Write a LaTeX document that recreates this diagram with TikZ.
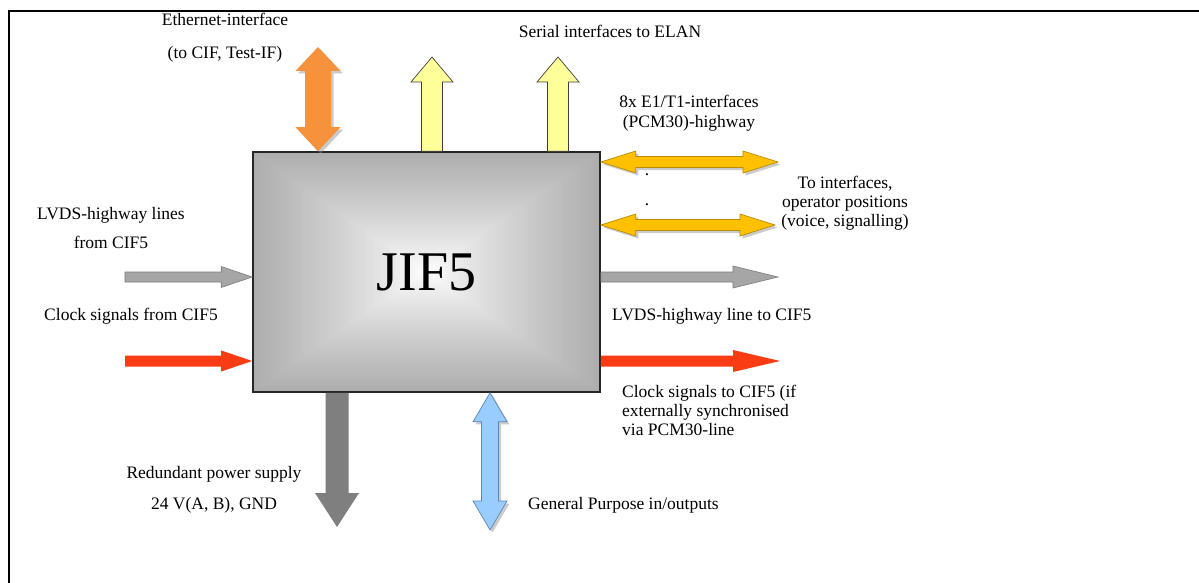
\documentclass[tikz,border=0pt]{standalone}
\usepackage{fontspec}
\setmainfont{Liberation Serif}
\usetikzlibrary{calc}

\definecolor{ethorange}{RGB}{247,146,60}
\definecolor{serialyellow}{RGB}{255,255,153}
\definecolor{pcmgold}{RGB}{255,192,0}
\definecolor{pcmgoldline}{RGB}{185,140,0}
\definecolor{lvdsgrey}{RGB}{166,166,166}
\definecolor{lvdsline}{RGB}{125,125,125}
\definecolor{clockred}{RGB}{250,60,20}
\definecolor{powergrey}{RGB}{127,127,127}
\definecolor{gpioblue}{RGB}{153,204,255}
\definecolor{gpioline}{RGB}{90,135,185}

% single block arrow: style, tail, tip, shaft half width, head half width, head length
\newcommand\blockarrow[6]{%
  \coordinate (hb) at ($(#3)!#6!(#2)$);
  \path[#1] ($(#2)!#4!90:(#3)$) -- ($(hb)!#4!90:(#3)$) -- ($(hb)!#5!90:(#3)$) -- (#3)
    -- ($(hb)!#5!-90:(#3)$) -- ($(hb)!#4!-90:(#3)$) -- ($(#2)!#4!-90:(#3)$) -- cycle;
}
% double block arrow: style, end A, end B, shaft half width, head half width, head length
\newcommand\dblockarrow[6]{%
  \coordinate (hba) at ($(#2)!#6!(#3)$);
  \coordinate (hbb) at ($(#3)!#6!(#2)$);
  \path[#1] (#2) -- ($(hba)!#5!90:(#3)$) -- ($(hba)!#4!90:(#3)$) -- ($(hbb)!#4!90:(#3)$)
    -- ($(hbb)!#5!90:(#3)$) -- (#3) -- ($(hbb)!#5!-90:(#3)$) -- ($(hbb)!#4!-90:(#3)$)
    -- ($(hba)!#4!-90:(#3)$) -- ($(hba)!#5!-90:(#3)$) -- cycle;
}

\tikzset{
  lbl/.style={font=\fontsize{17.5}{20}\selectfont, inner sep=0pt, align=center},
  dropshade/.style={preaction={fill=black!45, fill opacity=.45, draw=none,
      transform canvas={xshift=2.5pt,yshift=-2.5pt}}},
  etharrow/.style={fill=ethorange, dropshade},
  serarrow/.style={fill=serialyellow, draw=black!75, line width=0.7pt},
  pcmarrow/.style={fill=pcmgold, draw=pcmgoldline, line width=0.7pt, dropshade},
  lvdsarrow/.style={fill=lvdsgrey, draw=lvdsline, line width=0.6pt},
  clkarrow/.style={fill=clockred},
  pwrarrow/.style={fill=powergrey},
  gpioarrow/.style={fill=gpioblue, draw=gpioline, line width=0.7pt, dropshade},
}

\begin{document}
\begin{tikzpicture}[x=1pt,y=-1pt]
\useasboundingbox (0,0) rectangle (1199,583);
\fill[white] (0,0) rectangle (1199,583);

% page frame (top and left edges)
\draw[black, line width=1.6pt] (1199,11) -- (9,11) -- (9,583);

% JIF5 box: rectangular gradient from grey rim to white centre
\foreach \i in {0,...,59}{
  \pgfmathsetmacro\f{1-\i/60}
  \pgfmathsetmacro\g{32*\f^0.85}
  \fill[black!\g] ({426.5-173.5*\f},{272-120*\f}) rectangle ({426.5+173.5*\f},{272+120*\f});
}
\node[draw=black!85, line width=1.6pt, minimum width=347pt, minimum height=240pt,
      inner sep=0pt, font=\fontsize{56}{60}\selectfont] (jif) at (426.5,272) {JIF5};

% free ends of the connectors
\coordinate (eth) at (318,47);
\coordinate (ser1) at (432,57);
\coordinate (ser2) at (558,57);
\coordinate (pcma) at (778,162);
\coordinate (pcmb) at (775,225);
\coordinate (lvdsout) at (778,277);
\coordinate (clkout) at (780,361);
\coordinate (lvdsin) at (125,277);
\coordinate (clkin) at (125,361);
\coordinate (pwr) at (337,527);
\coordinate (gpio) at (490,530);

% connectors
\dblockarrow{etharrow}{jif.north -| eth}{eth}{13pt}{22.5pt}{24pt}
\blockarrow{serarrow}{jif.north -| ser1}{ser1}{10.5pt}{21pt}{25pt}
\blockarrow{serarrow}{jif.north -| ser2}{ser2}{10.5pt}{21pt}{25pt}
\dblockarrow{pcmarrow}{jif.east |- pcma}{pcma}{5.5pt}{11pt}{35pt}
\dblockarrow{pcmarrow}{jif.east |- pcmb}{pcmb}{5.5pt}{11pt}{35pt}
\blockarrow{lvdsarrow}{jif.east |- lvdsout}{lvdsout}{5pt}{11pt}{45pt}
\blockarrow{clkarrow}{jif.east |- clkout}{clkout}{5.5pt}{11pt}{47pt}
\blockarrow{lvdsarrow}{lvdsin}{jif.west |- lvdsin}{5pt}{10.5pt}{31pt}
\blockarrow{clkarrow}{clkin}{jif.west |- clkin}{5.5pt}{10.5pt}{31pt}
\blockarrow{pwrarrow}{jif.south -| pwr}{pwr}{11.5pt}{22pt}{34pt}
\dblockarrow{gpioarrow}{jif.south -| gpio}{gpio}{8.5pt}{17pt}{29pt}

% labels
\node[lbl] (lEth) at (225,38) {Ethernet-interface\\[13pt](to CIF, Test-IF)};
\node[lbl] (lSer) at (610,31) {Serial interfaces to ELAN};
\node[lbl] (lPcm) at (689,113) {8x E1/T1-interfaces\\(PCM30)-highway};
\node[lbl] (dot1) at (647,175) {.};
\node[lbl] (dot2) at (647,205) {.};
\node[lbl] (lTo) at (845,203) {To interfaces,\\[-1pt]operator positions\\[-1pt](voice, signalling)};
\node[lbl] (lLin) at (111,228) {LVDS-highway lines\\[9pt]from CIF5};
\node[lbl] (lCin) at (131,316) {Clock signals from CIF5};
\node[lbl, anchor=west] (lLout) at (612,316) {LVDS-highway line to CIF5};
\node[lbl, anchor=west, align=left] (lCout) at (622,410) {Clock signals to CIF5 (if\\[-1pt]externally synchronised\\[-1pt]via PCM30-line};
\node[lbl] (lPwr) at (214,490) {Redundant power supply\\[11pt]24 V(A, B), GND};
\node[lbl, anchor=west] (lGp) at (528,505) {General Purpose in/outputs};
\end{tikzpicture}
\end{document}
